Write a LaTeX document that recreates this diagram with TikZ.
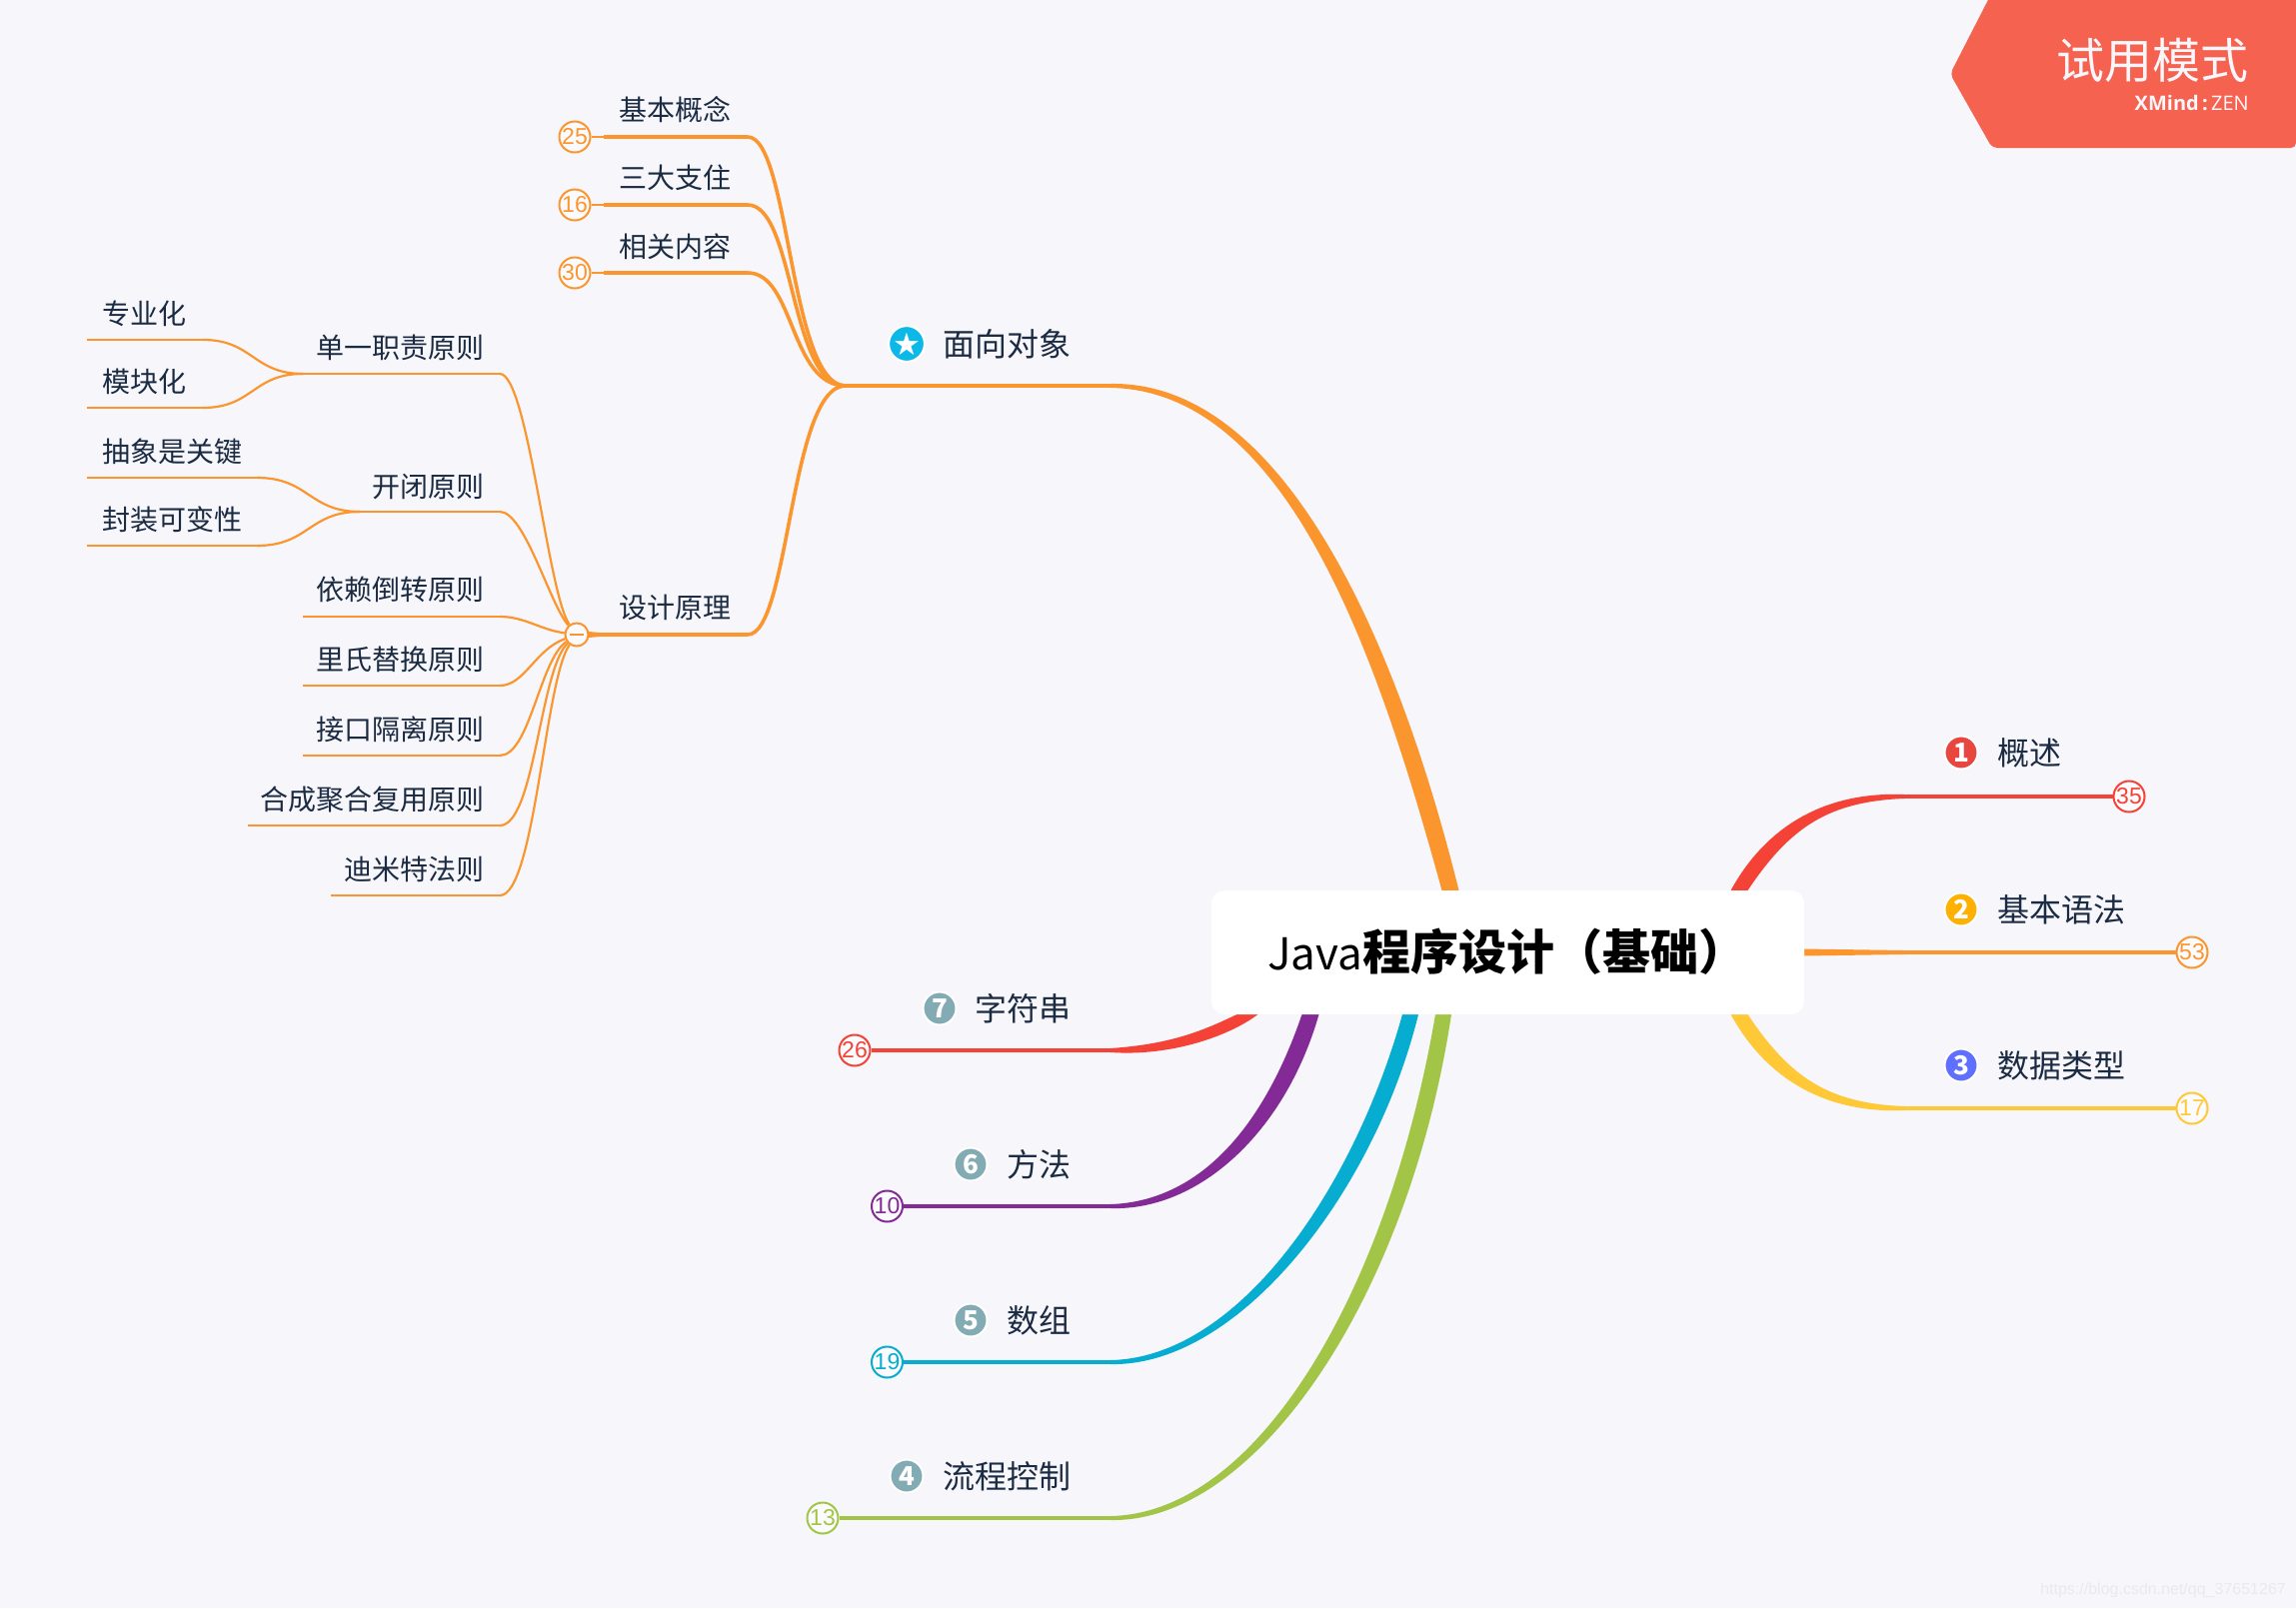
\documentclass[tikz,border=0pt]{standalone}
\usepackage{fontspec}
\setmainfont{Noto Sans CJK SC}
\newfontfamily\dejavu{DejaVu Sans}
\newfontfamily\latinf{Open Sans}
\newfontfamily\arialf{Liberation Sans}
\usetikzlibrary{calc}
\pgfdeclarelayer{bg}
\pgfsetlayers{bg,main}
\definecolor{pagebg}{HTML}{F6F6FB}
\definecolor{ink}{HTML}{1B2B42}
\definecolor{cred}{HTML}{F44336}
\definecolor{corange}{HTML}{FB962F}
\definecolor{cyellow}{HTML}{FFC837}
\definecolor{cpurple}{HTML}{832A96}
\definecolor{ccyan}{HTML}{06ADD1}
\definecolor{cgreen}{HTML}{A3C547}
\definecolor{banner}{HTML}{F56350}
\definecolor{ione}{HTML}{E8473F}
\definecolor{itwo}{HTML}{FFB000}
\definecolor{ithree}{HTML}{5F6FFF}
\definecolor{igrey}{HTML}{83ABB3}
\definecolor{istar}{HTML}{0CB8E8}
\definecolor{wmark}{HTML}{E9E9EE}
\newcommand\fs[1]{\fontsize{#1}{#1}\selectfont}
% tapered branch from named point a to named point b; #8 = side sign
\newcommand\taperlink[8]{%
  \fill[#1] ($(#2)+(0,-#6/2)$) .. controls ($#3+(0,-#7/3.4)$) and ($#4+(#8*#7*0.65,-#7*0.12)$) .. ($(#5)+(#8*#7/2,0)$)
    -- ($(#5)+(-#8*#7/2,0)$) .. controls ($#4+(-#8*#7*0.65,#7*0.12)$) and ($#3+(0,#7/3.4)$) .. ($(#2)+(0,#6/2)$) -- cycle;}
\tikzset{
  lbl/.style={anchor=east,inner sep=0pt,text=ink,font=\fs{28},xshift=1pt},
  mainlbl/.style={anchor=east,inner sep=0pt,text=ink,font=\fs{32},xshift=0.5pt},
  cnt/.style={circle,draw=#1,fill=white!60!pagebg,line width=2pt,text=#1,minimum size=31pt,inner sep=0pt,font=\fs{23}\arialf},
  ico/.style={circle,draw=white,fill=#1,line width=2pt,text=white,minimum size=33pt,inner sep=0pt,font=\fs{26}\bfseries},
  thin/.style={line width=2.2pt,corange},
  mid/.style={line width=3.6pt,corange},
  stub/.style={line width=#1},
  heavy/.style={line width=4pt,#1},
}
\begin{document}
\begin{tikzpicture}[x=1pt,y=-1pt]
\useasboundingbox (0,0) rectangle (2297,1609);
\begin{pgfonlayer}{bg}
\fill[pagebg] (0,0) rectangle (2297,1609);
\end{pgfonlayer}
% banner
\fill[banner,rounded corners=5pt] (1951,74) -- (1993,-8) -- (2297,-8) -- (2297,148) -- (1993,148) -- cycle;
\fill[banner] (2280,-2) rectangle (2297,20);
\node[anchor=east,inner sep=0pt,text=pagebg,font=\fs{48}] (trial) at (2250,60) {试用模式};
\node[anchor=east,inner sep=0pt,text=pagebg,font=\fs{20}] (brand) at (2250,103) {{\latinf\bfseries XMind\,:\,}{\latinf ZEN}};
\node[anchor=east,inner sep=0pt,text=wmark,font=\fs{16}] (wm) at (2287,1591) {\arialf https://blog.csdn.net/qq\_37651267};
% root
\node[fill=white,rounded corners=13pt,minimum width=593pt,minimum height=124pt,inner sep=0pt] (root) at (1508.5,953) {};
\node[anchor=west,inner sep=0pt,text=black,font=\fs{48}] (roottxt) at (1268,952) {{\fs{44}Java}\textbf{程序设计（基础）}};
\coordinate (rOrange) at (1451,891);
\coordinate (rRedR) at (1740,891);
\coordinate (rYellow) at (1740,1015);
\coordinate (rRedL) at (1248,1015);
\coordinate (rPurple) at (1311,1015);
\coordinate (rCyan) at (1411,1015);
\coordinate (rGreen) at (1444,1015);
% right topics
\node[ico=ione] (i1) at (1962,753) {1};
\node[mainlbl] (t1) at (2062,753) {概述};
\node[cnt=cred] (c35) at (2130,797) {35};
\coordinate (k1) at (1905,797); \coordinate (s1) at (2103,797);
\node[ico=itwo] (i2) at (1962,910) {2};
\node[mainlbl] (t2) at (2126,910) {基本语法};
\node[cnt=corange] (c53) at (2193,953) {53};
\coordinate (k2) at (1905,953); \coordinate (s2) at (2166,953);
\node[ico=ithree] (i3) at (1962,1066) {3};
\node[mainlbl] (t3) at (2126,1066) {数据类型};
\node[cnt=cyellow] (c17) at (2193,1109) {17};
\coordinate (k3) at (1905,1109); \coordinate (s3) at (2166,1109);
% left-lower topics
\node[ico=igrey] (i7) at (940,1009) {7};
\node[mainlbl] (t7) at (1071,1009) {字符串};
\node[cnt=cred] (c26) at (855,1051) {26};
\coordinate (k7) at (1111,1051); \coordinate (s7) at (883,1051);
\node[ico=igrey] (i6) at (971,1165) {6};
\node[mainlbl] (t6) at (1071,1165) {方法};
\node[cnt=cpurple] (c10) at (887.5,1207) {10};
\coordinate (k6) at (1111,1207); \coordinate (s6) at (915.5,1207);
\node[ico=igrey] (i5) at (971,1321) {5};
\node[mainlbl] (t5) at (1071,1321) {数组};
\node[cnt=ccyan] (c19) at (887.5,1363) {19};
\coordinate (k5) at (1111,1363); \coordinate (s5) at (915.5,1363);
\node[ico=igrey] (i4) at (907,1477) {4};
\node[mainlbl] (t4) at (1071,1477) {流程控制};
\node[cnt=cgreen] (c13) at (823,1519) {13};
\coordinate (k4) at (1111,1519); \coordinate (s4) at (851,1519);
% OOP topic
\node[ico=istar,font=\fs{31}\dejavu] (star) at (907,344) {★};
\node[mainlbl] (t0) at (1071,344) {面向对象};
\coordinate (k0) at (1111,386);
\coordinate (j0) at (846,386);
% OOP children
\node[lbl] (b1) at (731,110) {基本概念};
\node[cnt=corange] (c25) at (575,137) {25};
\coordinate (bs1) at (604,137); \coordinate (be1) at (748,137);
\node[lbl] (b2) at (731,178) {三大支住};
\node[cnt=corange] (c16) at (575,205) {16};
\coordinate (bs2) at (604,205); \coordinate (be2) at (748,205);
\node[lbl] (b3) at (731,247) {相关内容};
\node[cnt=corange] (c30) at (575,273) {30};
\coordinate (bs3) at (604,273); \coordinate (be3) at (748,273);
\node[lbl] (b4) at (731,608) {设计原理};
\node[circle,draw=corange,fill=white!60!pagebg,line width=2pt,minimum size=23pt,inner sep=0pt] (fold) at (577,635) {};
\draw[corange,line width=1.4pt] ($(fold)+(-7,0)$) -- ($(fold)+(7,0)$);
\coordinate (bs4) at (600,635); \coordinate (be4) at (748,635);
% design principles
\node[lbl] (p1) at (484,348) {单一职责原则};
\coordinate (ps1) at (303,374); \coordinate (pe1) at (500,374);
\node[lbl] (p2) at (484,487) {开闭原则};
\coordinate (ps2) at (360,512); \coordinate (pe2) at (500,512);
\node[lbl] (p3) at (484,590) {依赖倒转原则};
\coordinate (ps3) at (303,617); \coordinate (pe3) at (500,617);
\node[lbl] (p4) at (484,660) {里氏替换原则};
\coordinate (ps4) at (303,686); \coordinate (pe4) at (500,686);
\node[lbl] (p5) at (484,730) {接口隔离原则};
\coordinate (ps5) at (303,756); \coordinate (pe5) at (500,756);
\node[lbl] (p6) at (484,800) {合成聚合复用原则};
\coordinate (ps6) at (248,826); \coordinate (pe6) at (500,826);
\node[lbl] (p7) at (484,870) {迪米特法则};
\coordinate (ps7) at (331,896); \coordinate (pe7) at (500,896);
% leaves
\node[lbl] (l1) at (186,314) {专业化};
\coordinate (ls1) at (87,340); \coordinate (le1) at (203,340);
\node[lbl] (l2) at (186,382) {模块化};
\coordinate (ls2) at (87,408); \coordinate (le2) at (203,408);
\node[lbl] (l3) at (242,452) {抽象是关键};
\coordinate (ls3) at (87,478); \coordinate (le3) at (257,478);
\node[lbl] (l4) at (242,520) {封装可变性};
\coordinate (ls4) at (87,546); \coordinate (le4) at (257,546);

\begin{pgfonlayer}{bg}
% main tapered branches
\taperlink{corange}{k0}{(1290,386)}{(1391,661)}{rOrange}{4}{17}{1}
\taperlink{cred}{k1}{(1830,797)}{(1780,825)}{rRedR}{4}{17}{-1}
\taperlink{cyellow}{k3}{(1830,1109)}{(1780,1081)}{rYellow}{4}{17}{1}
\taperlink{cred}{k7}{(1170,1051)}{(1215,1035)}{rRedL}{4}{21}{-1}
\taperlink{cpurple}{k6}{(1200,1207)}{(1275,1130)}{rPurple}{4}{17}{-1}
\taperlink{ccyan}{k5}{(1240,1363)}{(1365,1190)}{rCyan}{4}{16}{-1}
\taperlink{cgreen}{k4}{(1260,1519)}{(1400,1290)}{rGreen}{4}{16}{-1}
\fill[corange] ($(root.east)+(-1,-3.5)$) -- ($(k2)+(0,-2)$) -- ($(k2)+(0,2)$) -- ($(root.east)+(-1,3.5)$) -- cycle;
% horizontal segments and stubs
\foreach \c/\s/\k/\col in {c35/s1/k1/cred,c53/s2/k2/corange,c17/s3/k3/cyellow,c26/s7/k7/cred,c10/s6/k6/cpurple,c19/s5/k5/ccyan,c13/s4/k4/cgreen}{
  \draw[\col,stub=3.2pt] (\c) -- (\s);
  \draw[heavy=\col] (\s) -- (\k);
}
\draw[heavy=corange] (j0) -- (k0);
% OOP children
\foreach \a/\s/\e in {c25/bs1/be1,c16/bs2/be2,c30/bs3/be3}{
  \draw[corange,stub=2pt] (\a) -- (\s);
  \draw[mid] (\s) -- (\e);
}
\draw[mid] (be1) .. controls (790,137) and (790,386) .. (j0);
\draw[mid] (be2) .. controls (795,205) and (790,386) .. (j0);
\draw[mid] (be3) .. controls (795,273) and (790,386) .. (j0);
\draw[mid] (be4) .. controls (790,635) and (790,386) .. (j0);
\draw[mid] (bs4) -- (be4);
\fill[corange] ($(fold)+(12,-3)$) -- ($(bs4)+(0,-2)$) -- ($(bs4)+(0,2)$) -- ($(fold)+(12,3)$) -- cycle;
% principles
\foreach \i in {1,...,7}{\draw[thin] (ps\i) -- (pe\i);}
\draw[thin] (pe1) .. controls (528,374) and (548,595) .. (fold);
\draw[thin] (pe2) .. controls (525,512) and (550,605) .. (fold);
\draw[thin] (pe3) .. controls (525,617) and (540,630) .. (fold);
\draw[thin] (pe4) .. controls (525,686) and (535,650) .. (fold);
\draw[thin] (pe5) .. controls (530,756) and (540,660) .. (fold);
\draw[thin] (pe6) .. controls (535,826) and (540,670) .. (fold);
\draw[thin] (pe7) .. controls (535,896) and (545,680) .. (fold);
% leaves
\foreach \i in {1,...,4}{\draw[thin] (ls\i) -- (le\i);}
\draw[thin] (le1) .. controls (253,340) and (253,374) .. (ps1);
\draw[thin] (le2) .. controls (253,408) and (253,374) .. (ps1);
\draw[thin] (le3) .. controls (309,478) and (309,512) .. (ps2);
\draw[thin] (le4) .. controls (309,546) and (309,512) .. (ps2);
\end{pgfonlayer}
\end{tikzpicture}
\end{document}
